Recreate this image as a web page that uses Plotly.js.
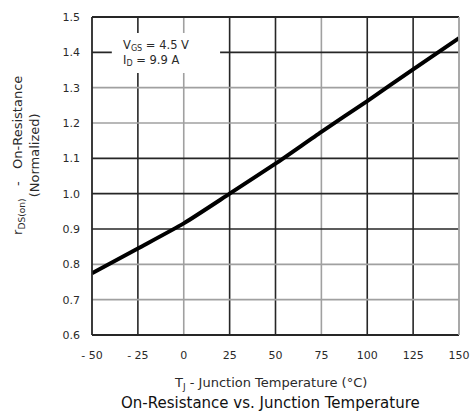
<!DOCTYPE html>
<html>
<head>
<meta charset="utf-8">
<script src="https://cdn.plot.ly/plotly-3.0.1.min.js"></script>
<style>html,body{margin:0;padding:0;background:#fff;}#chart{width:473px;height:414px;}</style>
</head>
<body>
<div id="chart"></div>
<script>
const temperature = [-50, -25, 0, 25, 50, 75, 100, 125, 150];
const rdsNormalized = [0.775, 0.845, 0.916, 1.0, 1.085, 1.175, 1.262, 1.352, 1.44];
const xTickVals = [-50, -25, 0, 25, 50, 75, 100, 125, 150];
const xTickText = ['- 50', '- 25', '0', '25', '50', '75', '100', '125', '150'];
const yTickVals = [0.6, 0.7, 0.8, 0.9, 1.0, 1.1, 1.2, 1.3, 1.4, 1.5];
const yTickText = ['0.6', '0.7', '0.8', '0.9', '1.0', '1.1', '1.2', '1.3', '1.4', '1.5'];
const darkGridX = [-25, 25, 50, 100, 125];
const lightGridX = [0, 75];
const darkGridY = [0.9, 1.0, 1.1, 1.4];
const lightGridY = [0.7, 0.8, 1.2, 1.3];

const FONT = '"DejaVu Sans", "Liberation Sans", Arial, sans-serif';
const DARK = '#262626', LIGHT = '#a0a0a0', TXT = '#2a2a2a';

const shapes = [];
darkGridX.forEach(v => shapes.push({type:'line', xref:'x', yref:'paper', x0:v, x1:v, y0:0, y1:1, layer:'below', line:{color:DARK, width:1.6}}));
lightGridX.forEach(v => shapes.push({type:'line', xref:'x', yref:'paper', x0:v, x1:v, y0:0, y1:1, layer:'below', line:{color:LIGHT, width:1.6}}));
darkGridY.forEach(v => shapes.push({type:'line', xref:'paper', yref:'y', x0:0, x1:1, y0:v, y1:v, layer:'below', line:{color:DARK, width:1.6}}));
lightGridY.forEach(v => shapes.push({type:'line', xref:'paper', yref:'y', x0:0, x1:1, y0:v, y1:v, layer:'below', line:{color:LIGHT, width:1.6}}));
// white label box interrupting the grid
shapes.push({type:'rect', xref:'paper', yref:'paper', x0:0.054, x1:0.349, y0:0.824, y1:0.95, layer:'below', fillcolor:'#fff', line:{width:0}});
// frame
shapes.push({type:'line', xref:'paper', yref:'paper', x0:0, x1:1, y0:1, y1:1, line:{color:DARK, width:1.8}});
shapes.push({type:'line', xref:'paper', yref:'paper', x0:0, x1:1, y0:0, y1:0, line:{color:DARK, width:1.8}});
shapes.push({type:'line', xref:'paper', yref:'paper', x0:0, x1:0, y0:0, y1:1, line:{color:DARK, width:1.8}});
shapes.push({type:'line', xref:'paper', yref:'paper', x0:1, x1:1, y0:0, y1:1, line:{color:LIGHT, width:1.8}});

const data = [{
  x: temperature, y: rdsNormalized, type:'scatter', mode:'lines', line:{color:'#000', width:4, shape:'spline', smoothing:0.6},
  hoverinfo:'skip', showlegend:false
}];

const layout = {
  width:473, height:414,
  margin:{l:92, r:14, t:17, b:79},
  paper_bgcolor:'#fff', plot_bgcolor:'#fff',
  font:{family:FONT, size:11, color:TXT},
  xaxis:{range:[-50,150], tickvals:xTickVals, ticktext:xTickText, showgrid:false, zeroline:false,
         showline:false, ticks:'', ticklabelstandoff:12, tickfont:{size:11, color:TXT}},
  yaxis:{range:[0.6,1.5], tickvals:yTickVals, ticktext:yTickText, showgrid:false, zeroline:false,
         showline:false, ticks:'', ticklabelstandoff:11, tickfont:{size:11, color:TXT}},
  shapes: shapes,
  annotations:[
    {xref:'paper', yref:'paper', x:0.08, y:0.887, xanchor:'left', yanchor:'middle', align:'left', showarrow:false,
     text:'V<sub>GS</sub> = 4.5 V<br>I<sub>D</sub> = 9.9 A', font:{size:11.5, color:TXT, family:FONT}},
    {xref:'paper', yref:'paper', x:0.486, y:-0.152, xanchor:'center', yanchor:'middle', showarrow:false,
     text:'T<sub>J</sub> - Junction Temperature (°C)', font:{size:13, color:TXT, family:FONT}},
    {xref:'paper', yref:'paper', x:0.486, y:-0.215, xanchor:'center', yanchor:'middle', showarrow:false,
     text:'On-Resistance vs. Junction Temperature', font:{size:15, color:'#111', family:FONT}},
    {xref:'paper', yref:'paper', x:-0.18, y:0.566, xanchor:'center', yanchor:'middle', showarrow:false, textangle:-90,
     text:'r<sub>DS(on)</sub>&nbsp;&nbsp;&nbsp;-&nbsp;&nbsp;&nbsp;On-Resistance<br>(Normalized)', font:{size:13, color:TXT, family:FONT}}
  ]
};

Plotly.newPlot('chart', data, layout, {displayModeBar:false, staticPlot:true});
</script>
</body>
</html>
